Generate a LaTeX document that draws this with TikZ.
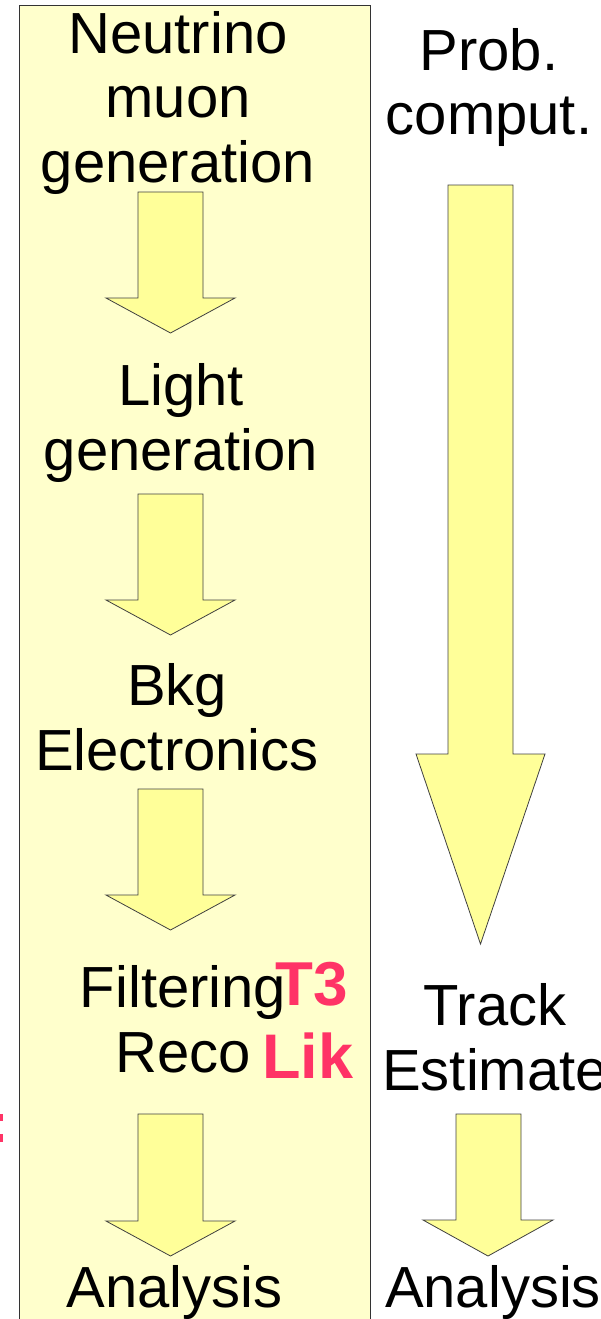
\documentclass[tikz,border=0pt]{standalone}
\usepackage{fontspec}
\setmainfont{Liberation Sans}
\definecolor{bgyellow}{HTML}{FFFFCC}
\definecolor{arrowyellow}{HTML}{FFFF99}
\definecolor{pinkred}{HTML}{FF3366}
\begin{document}
\begin{tikzpicture}[x=1pt,y=-1pt,
  lbl/.style={anchor=base,inner sep=0pt,align=center,font=\fontsize{58}{64.5}\selectfont},
  redlbl/.style={anchor=base west,inner sep=0pt,text=pinkred,font=\fontsize{62}{64}\selectfont\bfseries},
  blockarrow/.style={fill=arrowyellow,draw=black!75,line width=0.8pt,line join=miter}]
\useasboundingbox (0,0) rectangle (601,1319);
\begin{scope}
\clip (0,0) rectangle (601,1319);
% left panel
\draw[fill=bgyellow,draw=black!80,line width=1pt] (19,5.5) rectangle (370,1330);
% pink clipped marks at the left edge
\fill[pinkred] (-4,1114) rectangle (3,1121);
\fill[pinkred] (-4,1134) rectangle (3,1142);

% texts (anchor = baseline of the last line)
\node[lbl] (gen)   at (178,182)  {Neutrino\\muon\\generation};
\node[lbl] (prob)  at (489,135)  {Prob.\\comput.};
\node[lbl] (light) at (181,470)  {Light\\generation};
\node[lbl] (bkg)   at (177,770)  {Bkg\\Electronics};
\node[lbl] (filt)  at (183,1072) {Filtering\\Reco};
\node[redlbl] (t3)  at (275,1005) {T3};
\node[redlbl,font=\fontsize{63}{64}\selectfont\bfseries] (lik) at (262,1078) {Lik};
\node[lbl] (track) at (495,1090) {Track\\Estimate};
\node[lbl] (anaL)  at (174.5,1307) {Analysis};
\node[lbl] (anaR)  at (493,1307) {Analysis};

% block arrows, left column
\foreach \t/\h/\p in {192/298/333, 494/600/635, 789/895/930, 1114/1221/1256}{
  \draw[blockarrow] (138,\t) -- (203,\t) -- (203,\h) -- (235,\h) -- (170.5,\p)
     -- (106,\h) -- (138,\h) -- cycle;
}
% right column
\draw[blockarrow] (448,185) -- (513,185) -- (513,754) -- (545,754) -- (480.5,944)
     -- (416,754) -- (448,754) -- cycle;
\draw[blockarrow] (456,1114) -- (521,1114) -- (521,1220) -- (553,1220) -- (488,1256)
     -- (423,1220) -- (456,1220) -- cycle;
\end{scope}
\end{tikzpicture}
\end{document}
